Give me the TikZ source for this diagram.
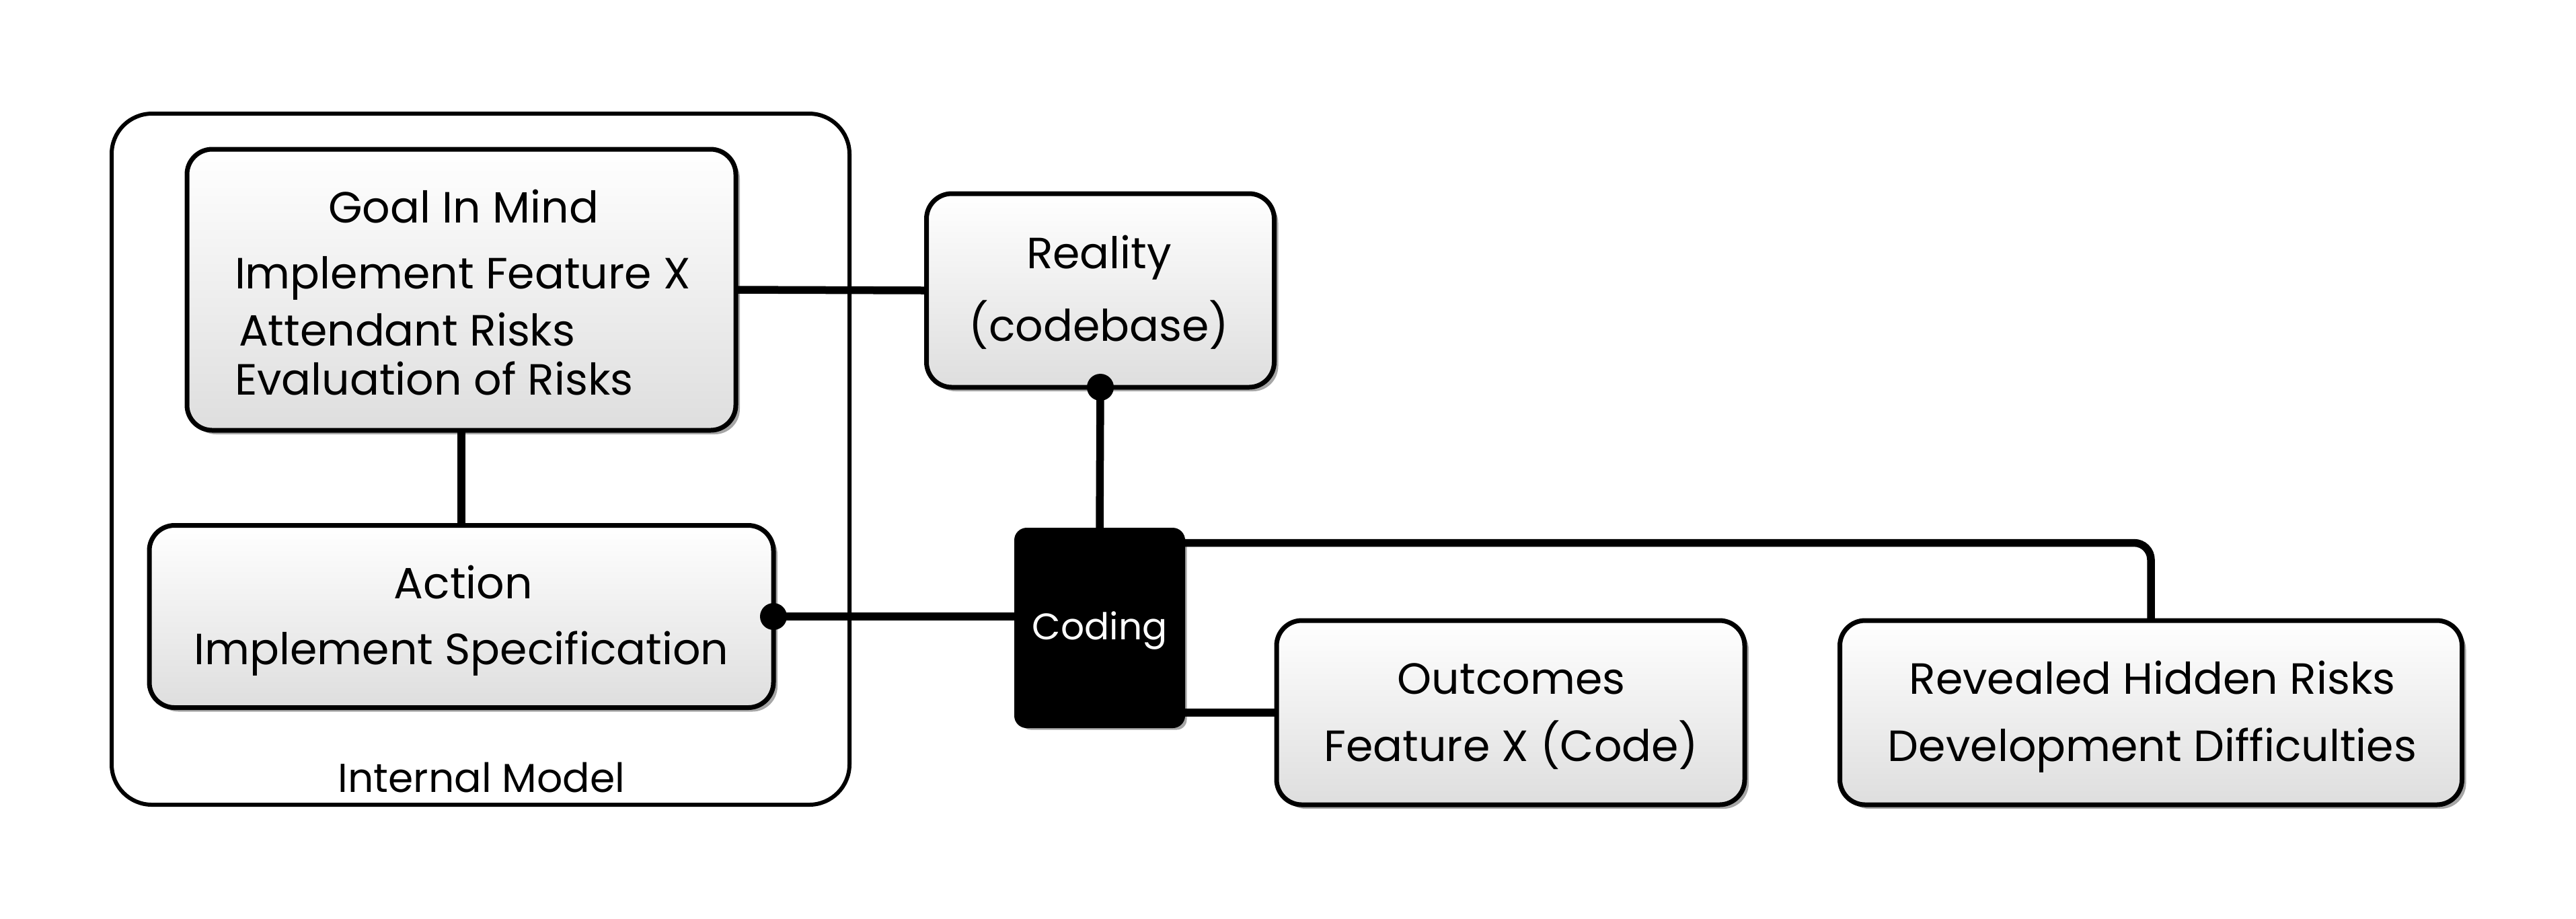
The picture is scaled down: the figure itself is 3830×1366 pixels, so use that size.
\documentclass[tikz,border=0pt]{standalone}
\usepackage{fontspec}
\setmainfont{Poppins}
\usetikzlibrary{shadows,positioning,calc}
\begin{document}
\begin{tikzpicture}[x=0.2pt,y=-0.2pt,
  every node/.style={inner sep=0pt,outer sep=0pt},
  box/.style={draw=black,line width=1.4pt,rounded corners=7.5pt,
    top color=white,bottom color=black!13,
    drop shadow={shadow xshift=1.2pt,shadow yshift=-1.2pt,opacity=0.35,fill=black}},
  txt/.style={font=\fontsize{13}{16}\selectfont,text height=9.5pt,text depth=2.5pt},
  conn/.style={line width=2.3pt}
]
\useasboundingbox (0,0) rectangle (3830,1366);
% Internal model frame
\draw[line width=1.2pt,rounded corners=12pt] (166,169) rectangle (1263,1197);
\node[font=\fontsize{12}{15}\selectfont] (imlabel) at (716,1157) {Internal Model};
% boxes
\node[box,minimum width=816*0.2pt,minimum height=418*0.2pt] (goal) at (686,431) {};
\node[box,minimum width=928*0.2pt,minimum height=271*0.2pt] (action) at (686,917) {};
\node[box,minimum width=517*0.2pt,minimum height=288*0.2pt] (reality) at (1636,432) {};
\node[draw=black,fill=black,line width=1.4pt,rounded corners=3pt,minimum width=247*0.2pt,minimum height=291*0.2pt,
  drop shadow={shadow xshift=1.2pt,shadow yshift=-1.2pt,opacity=0.35,fill=black}] (coding) at (1635,934) {};
\node[box,minimum width=696*0.2pt,minimum height=274*0.2pt] (outcomes) at (2246,1060) {};
\node[box,minimum width=925*0.2pt,minimum height=274*0.2pt] (revealed) at (3198,1060) {};
% texts
\node[txt] (tgoal) at (689,314) {Goal In Mind};
\node[txt,anchor=west] (tfx) at (349,412) {Implement Feature X};
\node[txt,anchor=west] (tar) at (355,497) {Attendant Risks};
\node[txt,anchor=west] (ter) at (349,570) {Evaluation of Risks};
\node[txt] (tact) at (689,873) {Action};
\node[txt] (tspec) at (686,971) {Implement Specification};
\node[txt] (treal) at (1634,382) {Reality};
\node[txt] (tcb) at (1634,490) {(codebase)};
\node[font=\fontsize{11}{13}\selectfont,text=white] (tcod) at (1635,938) {Coding};
\node[txt] (tout) at (2247,1015) {Outcomes};
\node[txt] (tfxc) at (2247,1115) {Feature X (Code)};
\node[txt] (trev) at (3200,1015) {Revealed Hidden Risks};
\node[txt] (tdev) at (3200,1115) {Development Difficulties};
% connectors
\draw[conn] (goal.east) -- (reality.west);
\draw[conn] (goal.south) -- (action.north);
\draw[conn] (action.east) -- (action.east -| coding.west);
\fill (action.east) circle (4pt);
\draw[conn] (reality.south) -- (coding.north);
\fill (reality.south) circle (4pt);
\coordinate (cne) at ($(coding.north east)+(0,19)$);
\draw[conn,rounded corners=5pt] (cne) -| (revealed.north);
\draw[conn] (outcomes.west -| coding.east) -- (outcomes.west);
\end{tikzpicture}
\end{document}
